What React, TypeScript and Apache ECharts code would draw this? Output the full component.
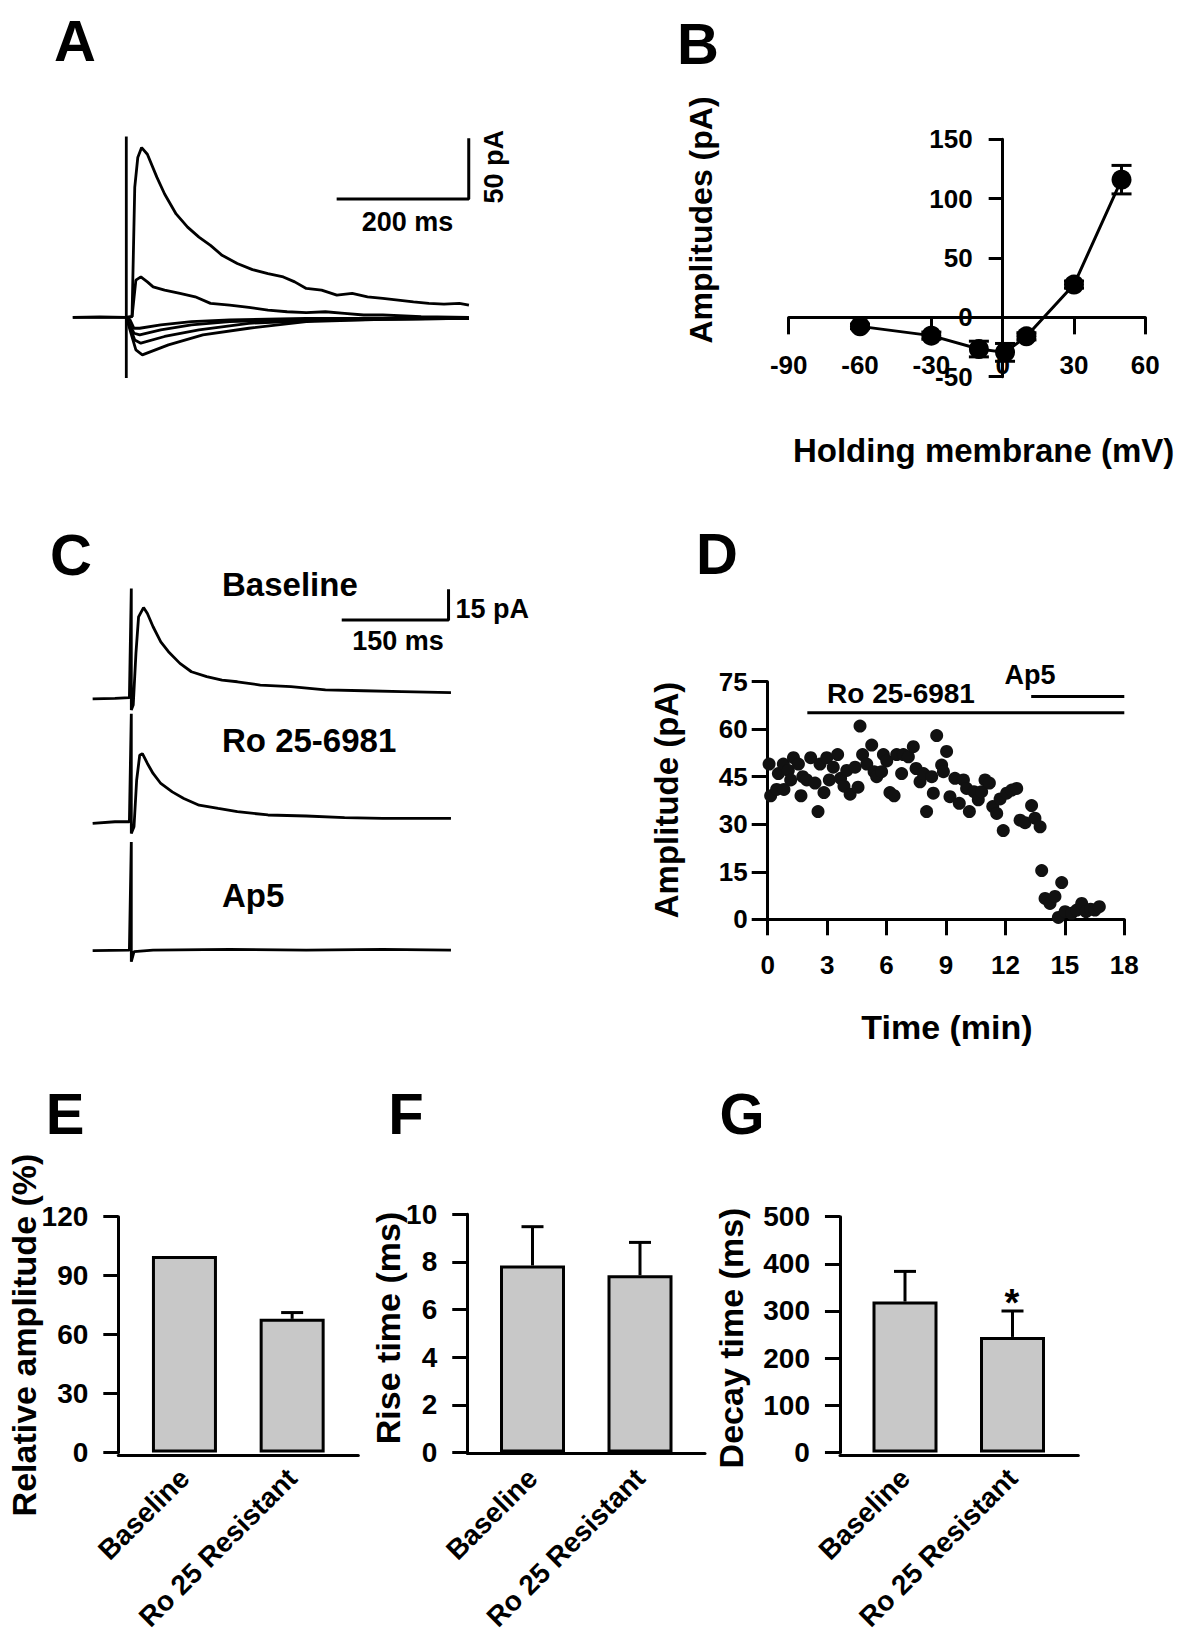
import React, { useEffect, useRef } from "react";
import * as echarts from "echarts";

const FONT = '"Liberation Sans", Arial, Helvetica, sans-serif';

// ---------------- Panel A : evoked currents at several holding potentials [ms, pA]
const aArtifact = [[0, 149], [0, -50]];
const aTraceP50 = [[-81, 0], [-40, 0.3], [0, 0], [8.7, 0.5], [12.8, 107], [17.4, 131.7], [23.2, 139.9], [31.9, 134.4], [46.4, 115.3], [58, 101.6], [75.4, 85.2], [92.8, 74.3], [110, 66.1], [127.5, 59.3], [145, 51.1], [168, 44.3], [191, 39.3], [214.5, 36.1], [237.7, 33.3], [255, 29.2], [272.5, 23.8], [295.7, 22.4], [318.8, 18.3], [342, 19.7], [365.2, 16.9], [388.4, 15.6], [411.6, 14.2], [434.8, 12.8], [458, 11.5], [481, 10.9], [504.3, 11.5], [518.8, 10.1]];
const aTraceP30 = [[-81, 0], [0, 0], [8.7, 0.5], [14.5, 30.6], [22, 33.3], [31.9, 29.2], [40.6, 25.1], [58, 22.4], [81.2, 19.7], [104.3, 16.9], [127.5, 11.5], [156.5, 10.1], [185.5, 8.2], [214.5, 6.0], [243.5, 4.6], [272.5, 3.8], [301.4, 4.6], [330.4, 3.3], [359.4, 1.9], [388.4, 1.9], [446.4, 0.5], [518.8, 0]];
const aTraceM1 = [[0, 0], [5.8, -2.2], [11.6, -9.0], [20.3, -9.0], [52.2, -6.3], [98.6, -3.6], [156.5, -2.2], [272.5, -0.8], [518.8, -0.8]];
const aTraceM2 = [[0, 0], [11.6, -13.1], [20.3, -14.5], [52.2, -10.4], [98.6, -6.3], [156.5, -3.6], [272.5, -1.6], [518.8, -0.8]];
const aTraceM3 = [[0, 0], [12.8, -18.6], [22, -21.3], [58, -15.8], [110, -10.4], [185.5, -4.9], [301.4, -2.2], [518.8, -0.8]];
const aTraceM4 = [[0, 0], [14.5, -26.8], [24.3, -30.9], [63.8, -22.7], [116, -14.5], [185.5, -9.0], [272.5, -3.6], [388.4, -1.6], [518.8, -0.8]];
const aScaleBar = [[318.5, 97.6], [518.5, 97.6], [518.5, 147.6]]; // 200 ms, 50 pA

// ---------------- Panel B : I-V relation
const bVm = [-60, -30, -10, 1, 10, 30, 50];
const bAmp = [-7.6, -15.4, -26.7, -29.5, -16, 27.6, 116];
const bErr = [2, 3, 6.6, 7.5, 3, 3, 12];

// ---------------- Panel C : example traces [ms, pA]
const cBaseline = [[-54.3, -0.3], [-23, 0], [-2.7, 0.3], [0, 53.7], [0, -5.7], [2.7, -3.3], [6.5, 22], [10.2, 39.8], [17.2, 44.4], [22.6, 41.5], [30.6, 35], [41.4, 27.6], [52.2, 22.8], [68.3, 17.1], [84.4, 13], [105.9, 10.6], [127.4, 8.9], [148.9, 8.1], [181.2, 6.5], [224.2, 5.7], [272.6, 4.1], [326.3, 3.7], [380.1, 3.3], [448.9, 2.8]];
const cRo = [[-54.3, -0.8], [-23, 0], [-2.7, 0], [0, 52.8], [0, -5.7], [3.8, -2.4], [7.5, 20.3], [11.8, 32.5], [15.6, 33.3], [22.6, 28.5], [30.6, 23.6], [41.4, 18.7], [57.5, 14.6], [73.7, 11.4], [95.2, 8.1], [122, 6.5], [148.9, 4.9], [191.9, 3.3], [245.7, 2.8], [299.5, 2.0], [353.2, 1.6], [448.9, 1.6]];
const cAp5 = [[-54.3, -0.3], [-2.7, 0], [0, 52.8], [0, -5.7], [3.8, -0.8], [30.6, 0], [138, 0.3], [245.7, 0], [353.2, 0.3], [448.9, 0]];
const cScaleBar = [[295.5, 38.3], [445.5, 38.3], [445.5, 53.3]]; // 150 ms, 15 pA

// ---------------- Panel D : time course
const dTime = [0.07, 0.15, 0.45, 0.54, 0.79, 0.82, 1.04, 1.16, 1.30, 1.55, 1.68, 1.77, 1.97, 2.17, 2.39, 2.54, 2.64, 2.84, 2.98, 3.11, 3.31, 3.53, 3.68, 3.85, 3.99, 4.16, 4.41, 4.56, 4.66, 4.79, 5.00, 5.25, 5.37, 5.50, 5.75, 5.84, 6.01, 6.17, 6.38, 6.51, 6.76, 6.85, 7.10, 7.35, 7.49, 7.69, 7.86, 8.02, 8.28, 8.36, 8.53, 8.78, 8.87, 9.03, 9.20, 9.45, 9.67, 9.88, 10.04, 10.18, 10.41, 10.63, 10.80, 10.97, 11.19, 11.36, 11.56, 11.73, 11.89, 12.06, 12.32, 12.57, 12.74, 12.99, 13.32, 13.49, 13.75, 13.83, 14.00, 14.25, 14.50, 14.84, 14.67, 15.01, 15.34, 15.60, 15.85, 16.07, 16.30, 16.52, 16.74];
const dAmp = [49, 39, 41, 46, 49, 41, 47, 44, 51, 49, 39, 45, 44, 51, 43, 34, 49, 40, 51, 44, 48, 52, 44.5, 42, 47, 39.5, 48, 41.7, 61, 52, 49, 55, 46.6, 45, 46.6, 52, 50, 40, 39, 52, 46, 52, 51.3, 54.5, 47.6, 43.4, 46, 34, 45, 39.8, 58, 48.7, 46.6, 53, 38.7, 44.5, 36.6, 44, 41.3, 34, 40.3, 37.7, 40.3, 44, 43, 35.6, 33.4, 38, 28, 39.8, 40.8, 41.3, 31.3, 30.5, 35.9, 31.9, 29.2, 15.4, 6.6, 5, 7.2, 11.6, 0.6, 2.4, 1.9, 2.9, 5, 2.4, 3.2, 2.9, 4];
const dRoBar = [[2, 65.2], [18, 65.2]];
const dAp5Bar = [[13.3, 70.3], [18, 70.3]];

// ---------------- Panels E, F, G : bar summaries
const barCategories = ["Baseline", "Ro 25 Resistant"];
const eMean = [100, 68];
const eErr = [0, 3.2];
const fMean = [7.85, 7.44];
const fErr = [1.63, 1.38];
const gMean = [320, 245];
const gErr = [64, 55];

// ---------------- helpers
const BLACK = "#000";
const axLine = (show = true) => ({ show, onZero: false, lineStyle: { color: BLACK, width: 3 } });
const axTick = (len: number) => ({ show: true, length: len, inside: false, lineStyle: { color: BLACK, width: 3 } });
const axLabel = (size: number, margin: number, extra: any = {}) => ({
  show: true, color: BLACK, fontSize: size, fontWeight: "bold", fontFamily: FONT, margin,
  showMinLabel: true, showMaxLabel: true, ...extra,
});
const hiddenAxis = (gi: number, min: number, max: number) => ({ type: "value", gridIndex: gi, min, max, show: false });

function txt(x: number, y: number, text: string, size: number, align = "center", rot = 0) {
  return {
    type: "text", x, y, rotation: rot, silent: true,
    style: { text, fill: BLACK, fontSize: size, fontWeight: "bold", fontFamily: FONT, align, verticalAlign: "middle" },
  };
}

const traceSeries = (data: number[][], gi: number, w = 2.8) => ({
  type: "line", xAxisIndex: gi, yAxisIndex: gi, data, showSymbol: false, symbol: "none",
  lineStyle: { color: BLACK, width: w }, silent: true, clip: false,
});

const barErrRender = (params: any, api: any) => {
  const i = api.value(0), m = api.value(1), e = api.value(2);
  if (!(e > 0)) return null;
  const p0 = api.coord([i, m]);
  const p1 = api.coord([i, m + e]);
  return {
    type: "group",
    children: [
      { type: "line", shape: { x1: p0[0], y1: p0[1], x2: p1[0], y2: p1[1] }, style: { stroke: BLACK, lineWidth: 3 } },
      { type: "line", shape: { x1: p1[0] - 11, y1: p1[1], x2: p1[0] + 11, y2: p1[1] }, style: { stroke: BLACK, lineWidth: 3 } },
    ],
  };
};

const ivErrRender = (params: any, api: any) => {
  const x = api.value(0), m = api.value(1), e = api.value(2);
  const t = api.coord([x, m + e]);
  const b = api.coord([x, m - e]);
  const st = { stroke: BLACK, lineWidth: 3 };
  return {
    type: "group",
    children: [
      { type: "line", shape: { x1: t[0], y1: t[1], x2: b[0], y2: b[1] }, style: st },
      { type: "line", shape: { x1: t[0] - 10, y1: t[1], x2: t[0] + 10, y2: t[1] }, style: st },
      { type: "line", shape: { x1: b[0] - 10, y1: b[1], x2: b[0] + 10, y2: b[1] }, style: st },
    ],
  };
};

function barPanel(gi: number, lineGi: number, max: number, interval: number, offset: number, mean: number[], err: number[]) {
  const xAxes = [
    {
      type: "category", gridIndex: gi, data: barCategories,
      axisLine: { show: false }, axisTick: { show: false },
      axisLabel: axLabel(28, 21, { rotate: 45, interval: 0 }),
    },
    {
      type: "value", gridIndex: lineGi, min: 0, max: 1,
      axisLine: axLine(true), axisTick: { show: false }, axisLabel: { show: false }, splitLine: { show: false },
    },
  ];
  const yAxes = [
    {
      type: "value", gridIndex: gi, min: 0, max, interval, offset,
      axisLine: axLine(true), axisTick: axTick(15), axisLabel: axLabel(28, 30), splitLine: { show: false },
    },
    hiddenAxis(lineGi, 0, 1),
  ];
  const series = [
    {
      type: "bar", xAxisIndex: gi, yAxisIndex: gi, data: mean, barWidth: 65, silent: true,
      itemStyle: { color: "#c8c8c8", borderColor: BLACK, borderWidth: 3 },
    },
    {
      type: "custom", xAxisIndex: gi, yAxisIndex: gi, renderItem: barErrRender, silent: true,
      encode: { x: 0, y: 1 }, data: mean.map((m, i) => [i, m, err[i]]), z: 5,
    },
  ];
  return { xAxes, yAxes, series };
}

const E = barPanel(6, 7, 120, 30, 12.3, eMean, eErr);
const F = barPanel(8, 9, 10, 2, 11.5, fMean, fErr);
const G = barPanel(10, 11, 500, 100, 11.3, gMean, gErr);

// panel B geometry: the zero lines sit inside the grid, so both axes are shifted onto them
const B_LEFT = 788.7, B_W = 356.6, B_TOP = 139.3, B_H = 237.4;
const bYAxisShift = -(B_W * 90 / 150);
const bXAxisShift = -(B_H * 50 / 200);

const option: any = {
  animation: false,
  backgroundColor: "#fff",
  textStyle: { fontFamily: FONT },
  grid: [
    { left: 72.14, top: 135.3, width: 397.6, height: 242.7 },     // 0 A
    { left: B_LEFT, top: B_TOP, width: B_W, height: B_H },        // 1 B
    { left: 92.14, top: 587.9, width: 359.6, height: 122.7 },     // 2 C baseline
    { left: 92.14, top: 711.3, width: 359.6, height: 122.7 },     // 3 C Ro
    { left: 92.14, top: 839.6, width: 359.6, height: 122.7 },     // 4 C Ap5
    { left: 767.7, top: 681.7, width: 356.6, height: 237.6 },     // 5 D
    { left: 130.6, top: 1216.7, width: 215.4, height: 238.6 },    // 6 E
    { left: 118.3, top: 1216.7, width: 240, height: 238.6 },      // 7 E axis line
    { left: 478.75, top: 1214.3, width: 215, height: 238.5 },     // 8 F
    { left: 467.3, top: 1214.3, width: 237.7, height: 238.5 },    // 9 F axis line
    { left: 851.25, top: 1216.7, width: 215, height: 238.6 },     // 10 G
    { left: 840, top: 1216.7, width: 238.3, height: 238.6 },      // 11 G axis line
  ],
  xAxis: [
    hiddenAxis(0, -82, 520),
    {
      type: "value", gridIndex: 1, min: -90, max: 60, interval: 30, offset: bXAxisShift,
      axisLine: axLine(true), axisTick: axTick(17), axisLabel: axLabel(26, 35), splitLine: { show: false },
    },
    hiddenAxis(2, -55, 450),
    hiddenAxis(3, -55, 450),
    hiddenAxis(4, -55, 450),
    {
      type: "value", gridIndex: 5, min: 0, max: 18, interval: 3,
      axisLine: axLine(true), axisTick: axTick(16), axisLabel: axLabel(26, 33), splitLine: { show: false },
    },
    ...E.xAxes, ...F.xAxes, ...G.xAxes,
  ],
  yAxis: [
    hiddenAxis(0, -50, 150),
    {
      type: "value", gridIndex: 1, min: -50, max: 150, interval: 50, offset: bYAxisShift,
      axisLine: axLine(true), axisTick: axTick(14), axisLabel: axLabel(26, 30), splitLine: { show: false },
    },
    hiddenAxis(2, -6, 54),
    hiddenAxis(3, -6, 54),
    hiddenAxis(4, -6, 54),
    {
      type: "value", gridIndex: 5, min: 0, max: 75, interval: 15,
      axisLine: axLine(true), axisTick: axTick(16), axisLabel: axLabel(26, 20), splitLine: { show: false },
    },
    ...E.yAxes, ...F.yAxes, ...G.yAxes,
  ],
  series: [
    // A
    traceSeries(aTraceM4, 0), traceSeries(aTraceM3, 0), traceSeries(aTraceM2, 0), traceSeries(aTraceM1, 0),
    traceSeries(aTraceP30, 0), traceSeries(aTraceP50, 0), traceSeries(aArtifact, 0), traceSeries(aScaleBar, 0, 3),
    // B
    {
      type: "custom", xAxisIndex: 1, yAxisIndex: 1, renderItem: ivErrRender, silent: true,
      encode: { x: 0, y: 1 }, data: bVm.map((v, i) => [v, bAmp[i], bErr[i]]), z: 2,
    },
    {
      type: "line", xAxisIndex: 1, yAxisIndex: 1, data: bVm.map((v, i) => [v, bAmp[i]]),
      symbol: "circle", symbolSize: 20, itemStyle: { color: BLACK }, lineStyle: { color: BLACK, width: 3 }, silent: true, z: 3,
    },
    // C
    traceSeries(cBaseline, 2), traceSeries(cScaleBar, 2, 3), traceSeries(cRo, 3), traceSeries(cAp5, 4),
    // D
    {
      type: "scatter", xAxisIndex: 5, yAxisIndex: 5, data: dTime.map((t, i) => [t, dAmp[i]]),
      symbol: "circle", symbolSize: 13, itemStyle: { color: "#111", opacity: 1 }, silent: true,
    },
    traceSeries(dRoBar, 5, 3),
    traceSeries(dAp5Bar, 5, 3),
    // E F G
    ...E.series, ...F.series, ...G.series,
  ],
  graphic: [
    // panel letters
    txt(75, 40, "A", 58), txt(698, 43, "B", 58), txt(71, 554, "C", 58), txt(717, 553, "D", 58),
    txt(65, 1113, "E", 58), txt(406, 1113, "F", 58), txt(742, 1113, "G", 58),
    // A
    txt(407.5, 221.7, "200 ms", 27), txt(493.6, 166.7, "50 pA", 27, "center", Math.PI / 2),
    // B
    txt(701.4, 220, "Amplitudes (pA)", 32, "center", Math.PI / 2),
    txt(983.6, 450.7, "Holding membrane (mV)", 33),
    // C
    txt(222, 584.2, "Baseline", 33, "left"), txt(222, 740.8, "Ro 25-6981", 33, "left"), txt(222, 895, "Ap5", 33, "left"),
    txt(398, 640.7, "150 ms", 27), txt(455.4, 609.3, "15 pA", 27, "left"),
    // D
    txt(901, 693, "Ro 25-6981", 28), txt(1030, 675, "Ap5", 27),
    txt(666, 800, "Amplitude (pA)", 33, "center", Math.PI / 2),
    txt(947, 1027, "Time (min)", 34),
    // E F G titles
    txt(24, 1335, "Relative amplitude (%)", 34, "center", Math.PI / 2),
    txt(388, 1328, "Rise time (ms)", 34, "center", Math.PI / 2),
    txt(731, 1338, "Decay time (ms)", 34, "center", Math.PI / 2),
    txt(1012, 1303, "*", 38),
  ],
};

export default function App() {
  const ref = useRef<HTMLDivElement>(null);
  useEffect(() => {
    if (!ref.current) return;
    const chart = echarts.init(ref.current, null, { renderer: "svg", width: 1200, height: 1634 });
    chart.setOption(option);
    return () => chart.dispose();
  }, []);
  return (
    <div
      ref={ref}
      style={{ position: "absolute", left: 0, top: 0, width: 1200, height: 1634, background: "#fff" }}
    />
  );
}
